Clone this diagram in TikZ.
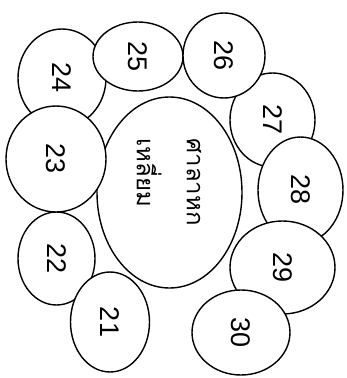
\documentclass[tikz,border=0pt]{standalone}
\usepackage{fontspec}
\setmainfont{Liberation Sans}
\newfontfamily\thaifont[Script=Thai]{Loma}
\begin{document}
\begin{tikzpicture}[x=1pt,y=-1pt,
  ring/.style={draw=black, fill=white, line width=1.4pt},
  num/.style={rotate=-90, font=\fontsize{27}{29}\selectfont, inner sep=0pt}]
\useasboundingbox (0,0) rectangle (346,378);
% central pavilion
\draw[ring] (169.5,192.5) ellipse [x radius=72.5, y radius=95.5];
\node[rotate=-90, align=left, inner sep=0pt, font=\thaifont\fontsize{24}{50}\selectfont] (sala) at (169,182) {ศาลาหก\\เหลี่ยม};
% seats, drawn in overlap order
\draw[ring] (56.5,258.5) ellipse [x radius=38.5, y radius=46.5];
\node[num] (n22) at (56.5,258.5) {22};
\draw[ring] (110,322) ellipse [x radius=39.5, y radius=50];
\node[num] (n21) at (110,322) {21};
\draw[ring] (62,78) ellipse [x radius=44, y radius=49];
\node[num] (n24) at (62,78) {24};
\draw[ring] (56,159) ellipse [x radius=50, y radius=53];
\node[num] (n23) at (56,159) {23};
\draw[ring] (138,56.5) ellipse [x radius=45, y radius=34.5];
\node[num] (n25) at (138,56.5) {25};
\draw[ring] (272.5,120) ellipse [x radius=42.5, y radius=47];
\node[num] (n27) at (272.5,120) {27};
\draw[ring] (224,55.5) ellipse [x radius=41, y radius=42.5];
\node[num] (n26) at (224,55.5) {26};
\draw[ring] (300.5,190) ellipse [x radius=42.5, y radius=53];
\node[num] (n28) at (300.5,190) {28};
\draw[ring] (282.5,267.5) ellipse [x radius=52.5, y radius=46.5];
\node[num] (n29) at (282.5,267.5) {29};
\draw[ring] (241,332.5) ellipse [x radius=49, y radius=42.5];
\node[num] (n30) at (241,332.5) {30};
\end{tikzpicture}
\end{document}
